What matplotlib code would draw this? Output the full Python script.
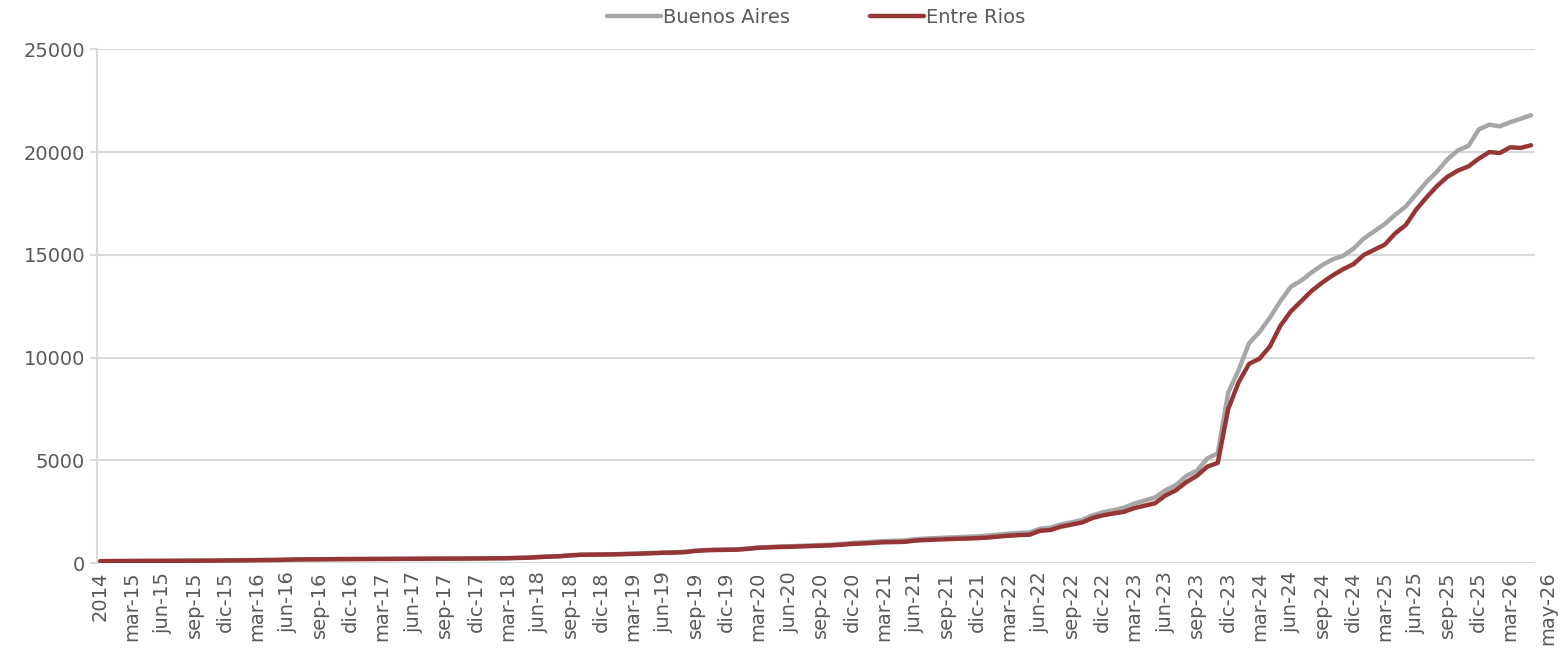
import numpy as np
import matplotlib
matplotlib.use("Agg")
from matplotlib import pyplot as plt

# monthly values, dec-2014 .. may-2026
entre_rios = [
    100, 104, 108, 110, 112, 114, 116, 118, 120, 122, 125, 128,
    135, 140, 145, 150, 155, 160, 175, 185, 190, 195, 198, 200,
    202, 204, 206, 208, 210, 212, 215, 218, 220, 222, 225, 228,
    232, 236, 240, 245, 255, 270, 300, 320, 340, 380, 410, 415,
    420, 430, 440, 455, 470, 490, 510, 520, 540, 600, 630, 645,
    650, 660, 700, 750, 770, 790, 800, 820, 835, 850, 870, 900,
    940, 960, 990, 1020, 1030, 1040, 1100, 1130, 1150, 1170, 1190, 1200,
    1220, 1250, 1300, 1340, 1370, 1390, 1580, 1620, 1780, 1880, 1980, 2200,
    2330, 2420, 2500, 2680, 2800, 2920, 3300, 3550, 3950, 4250, 4700, 4880,
    7500, 8800, 9700, 9950, 10550, 11550, 12250, 12750, 13250, 13650, 14000, 14300,
    14550, 15000, 15250, 15500, 16050, 16450, 17200, 17800, 18350, 18800, 19100, 19300,
    19680, 20000, 19950, 20230, 20200, 20330,
]

buenos_aires = [
    105, 108, 111, 113, 115, 117, 119, 121, 123, 125, 128, 132,
    138, 143, 148, 153, 158, 165, 180, 190, 195, 200, 203, 205,
    207, 209, 211, 213, 215, 217, 220, 223, 225, 227, 230, 233,
    237, 241, 245, 250, 262, 278, 308, 330, 350, 390, 420, 425,
    430, 440, 450, 466, 482, 502, 522, 535, 555, 615, 645, 660,
    668, 680, 720, 770, 792, 812, 825, 845, 862, 880, 905, 940,
    985, 1015, 1050, 1080, 1095, 1110, 1170, 1200, 1225, 1245, 1265, 1280,
    1310, 1345, 1395, 1440, 1475, 1500, 1680, 1730, 1890, 1990, 2100, 2330,
    2480, 2580, 2700, 2900, 3050, 3200, 3550, 3800, 4250, 4500, 5100, 5350,
    8300, 9400, 10700, 11250, 11950, 12750, 13450, 13750, 14150, 14500, 14780, 14950,
    15300, 15800, 16150, 16500, 16950, 17350, 17950, 18550, 19050, 19650, 20080, 20300,
    21100, 21330, 21250, 21450, 21620, 21790,
]

tick_labels = [
    "2014",
    "mar-15", "jun-15", "sep-15", "dic-15",
    "mar-16", "jun-16", "sep-16", "dic-16",
    "mar-17", "jun-17", "sep-17", "dic-17",
    "mar-18", "jun-18", "sep-18", "dic-18",
    "mar-19", "jun-19", "sep-19", "dic-19",
    "mar-20", "jun-20", "sep-20", "dic-20",
    "mar-21", "jun-21", "sep-21", "dic-21",
    "mar-22", "jun-22", "sep-22", "dic-22",
    "mar-23", "jun-23", "sep-23", "dic-23",
    "mar-24", "jun-24", "sep-24", "dic-24",
    "mar-25", "jun-25", "sep-25", "dic-25",
    "mar-26",
]
last_label = "may-26"

x = np.arange(len(entre_rios))
tick_pos = list(range(0, 136, 3))

txt = "#595959"
plt.rcParams["font.family"] = ["DejaVu Sans"]

fig = plt.figure(figsize=(15.65, 6.65), dpi=100)
ax = fig.add_axes([0.062, 0.153, 0.919, 0.773])

ax.plot(x, buenos_aires, color="#a6a6a6", lw=3.2, solid_joinstyle="round",
        solid_capstyle="round", label="Buenos Aires")
ax.plot(x, entre_rios, color="#963634", lw=3.2, solid_joinstyle="round",
        solid_capstyle="round", label="Entre Rios")

ax.set_ylim(0, 25000)
ax.set_yticks(range(0, 25001, 5000))
ax.set_xlim(-0.3, len(x) - 1 + 0.4)
ax.set_xticks(tick_pos)
ax.set_xticklabels(tick_labels, rotation=90)

# last label (last data month), drawn a little to the right like the original
ax.annotate(last_label, xy=(x[-1], 0), xycoords=("data", "axes fraction"),
            xytext=(12, -6), textcoords="offset points", rotation=90,
            ha="center", va="top", fontsize=14, color=txt, annotation_clip=False)

ax.grid(axis="y", color="#d9d9d9", lw=1.5)
ax.set_axisbelow(True)
for s in ["top", "right", "bottom"]:
    ax.spines[s].set_visible(False)
ax.spines["left"].set_color("#d9d9d9")
ax.spines["left"].set_linewidth(1.5)

ax.tick_params(axis="y", colors="#d9d9d9", labelcolor=txt, labelsize=14, length=5, width=1.5)
ax.tick_params(axis="x", length=0, labelcolor=txt, labelsize=14, pad=6)

ax.legend(loc="upper center", bbox_to_anchor=(0.5, 1.115), ncol=2, frameon=False,
          fontsize=14, labelcolor=txt, handlelength=2.8, handletextpad=0.1,
          columnspacing=4.1)

fig.savefig("out.png", dpi=100)
